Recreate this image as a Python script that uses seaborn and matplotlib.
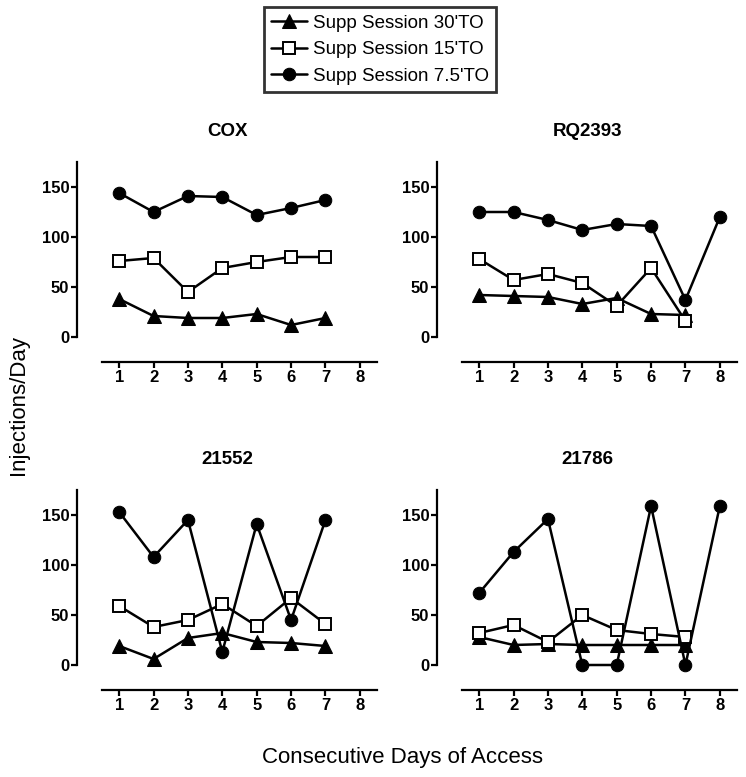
import matplotlib
matplotlib.use('Agg')
import matplotlib.pyplot as plt
import seaborn as sns

# Days of access
days_7 = [1, 2, 3, 4, 5, 6, 7]
days_8 = [1, 2, 3, 4, 5, 6, 7, 8]

series_labels = ["Supp Session 30'TO", "Supp Session 15'TO", "Supp Session 7.5'TO"]
panel_names = ['COX', 'RQ2393', '21552', '21786']

# Injections/day
cox_30 = [38, 21, 19, 19, 23, 12, 19]
cox_15 = [76, 79, 45, 69, 75, 80, 80]
cox_75 = [144, 125, 141, 140, 122, 129, 137]

rq2393_30 = [42, 41, 40, 33, 39, 23, 22]
rq2393_15 = [78, 57, 63, 54, 31, 69, 16]
rq2393_75 = [125, 125, 117, 107, 113, 111, 37, 120]

r21552_30 = [19, 6, 27, 32, 23, 22, 19]
r21552_15 = [59, 38, 45, 61, 39, 67, 41]
r21552_75 = [153, 108, 145, 13, 141, 45, 145]

r21786_30 = [28, 20, 21, 20, 20, 20, 20]
r21786_15 = [32, 40, 23, 50, 35, 31, 28]
r21786_75 = [72, 113, 146, 0, 0, 159, 0, 159]

y_ticks = [0, 50, 100, 150]
x_ticks = [1, 2, 3, 4, 5, 6, 7, 8]

sns.set_style('ticks')
plt.rcParams['font.family'] = ['Liberation Sans', 'DejaVu Sans']
plt.rcParams['text.color'] = 'black'
plt.rcParams['axes.edgecolor'] = 'black'
plt.rcParams['xtick.color'] = 'black'
plt.rcParams['ytick.color'] = 'black'

W, H = 746, 777
fig = plt.figure(figsize=(W / 100, H / 100), dpi=100)

# (left px, zero-line px from top)
positions = [(102, 337), (462, 337), (102, 665), (462, 665)]
panels = [
    (cox_30, cox_15, cox_75),
    (rq2393_30, rq2393_15, rq2393_75),
    (r21552_30, r21552_15, r21552_75),
    (r21786_30, r21786_15, r21786_75),
]

axes = []
for (left, zero), name, (s30, s15, s75) in zip(positions, panel_names, panels):
    ax = fig.add_axes([left / W, (H - zero) / H, 275 / W, 175 / H])
    axes.append(ax)

    # 30' timeout - filled triangles
    sns.lineplot(x=days_7[:len(s30)], y=s30, ax=ax, color='black', lw=1.8,
                 marker='^', ms=9.5, mfc='black', mec='black', label=series_labels[0],
                 zorder=2, clip_on=False)
    # 15' timeout - open squares
    sns.lineplot(x=days_7[:len(s15)], y=s15, ax=ax, color='black', lw=1.8,
                 marker='s', ms=9, mfc='white', mec='black', mew=1.4, label=series_labels[1],
                 zorder=3, clip_on=False)
    # 7.5' timeout - filled circles
    sns.lineplot(x=days_8[:len(s75)], y=s75, ax=ax, color='black', lw=1.8,
                 marker='o', ms=9, mfc='black', mec='black', label=series_labels[2],
                 zorder=4, clip_on=False)
    if ax.get_legend() is not None:
        ax.get_legend().remove()

    ax.set_xlim(0.5, 8.5)
    ax.set_ylim(0, 175)
    ax.set_xticks(x_ticks)
    ax.set_yticks(y_ticks)
    ax.set_xlabel('')
    ax.set_ylabel('')

    sns.despine(ax=ax)
    ax.spines['left'].set_position(('outward', 18))
    ax.spines['bottom'].set_position(('outward', 18))
    for sp in ['left', 'bottom']:
        ax.spines[sp].set_linewidth(1.6)
        ax.spines[sp].set_color('black')
    ax.tick_params(axis='both', length=4, width=1.6, pad=1.5, labelsize=12, colors='black')
    for lab in ax.get_xticklabels() + ax.get_yticklabels():
        lab.set_fontweight('bold')

    # Title centred over y spine to end of x axis
    cx = (left - 24 + left + 275) / 2
    fig.text(cx / W, 1 - (zero - 205) / H, name, ha='center', va='center',
             fontsize=13.5, fontweight='bold', color='black')

# Shared legend at top
handles, labels = axes[0].get_legend_handles_labels()
leg = fig.legend(handles, labels, loc='upper center', bbox_to_anchor=(380 / W, 1 - 7 / H),
                 fontsize=13.5, frameon=True, fancybox=False, handlelength=1.9,
                 handletextpad=0.3, labelspacing=0.5, borderpad=0.4, borderaxespad=0)
leg.get_frame().set_edgecolor('black')
leg.get_frame().set_linewidth(2)
for t in leg.get_texts():
    t.set_color('black')

# Shared axis labels
fig.text(402 / W, 1 - 758 / H, 'Consecutive Days of Access', ha='center', va='center',
         fontsize=16, color='black')
fig.text(19 / W, 1 - 405 / H, 'Injections/Day', ha='center', va='center', rotation=90,
         fontsize=16, color='black')

fig.savefig('out.png', dpi=100)
